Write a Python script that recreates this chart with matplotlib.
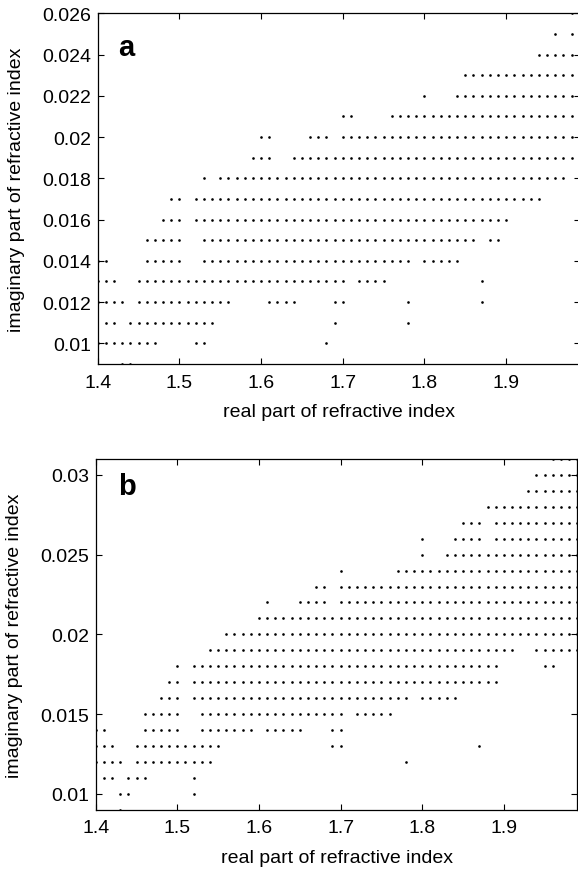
import numpy as np
import matplotlib
matplotlib.use("Agg")
import matplotlib.pyplot as plt

plt.rcParams['font.family'] = ['Liberation Sans', 'DejaVu Sans']

# grid of real parts (columns of the bitmap rows below)
REAL_GRID = [round(1.40 + 0.01 * k, 2) for k in range(60)]

# panel a: imaginary part rows and which grid cells hold a point ('o')
A_IMAG = [0.026, 0.025, 0.024, 0.023, 0.022, 0.021, 0.020, 0.019, 0.018,
          0.017, 0.016, 0.015, 0.014, 0.013, 0.012, 0.011, 0.010, 0.009]
A_ROWS = [
    ".......... .......... .......... .......... .......... ........o.",
    ".......... .......... .......... .......... .......... ......o.o.",
    ".......... .......... .......... .......... .......... ....ooooo.",
    ".......... .......... .......... .......... .....ooooo ooooooooo.",
    ".......... .......... .......... .......... o...oooooo ooooooooo.",
    ".......... .......... .......... oo....oooo oooooooooo ooooooooo.",
    ".......... .......... oo....ooo. oooooooooo oooooooooo ooooooooo.",
    ".......... .........o oo..oooooo oooooooooo oooooooooo ooooooooo.",
    ".......... ...o.ooooo oooooooooo oooooooooo oooooooooo oooooooo..",
    ".........o o.oooooooo oooooooooo oooooooooo oooooooooo ooooo.....",
    "........oo o.oooooooo oooooooooo oooooooooo oooooooooo o.........",
    "......oooo o..ooooooo oooooooooo oooooooooo ooooooo.oo ..........",
    "oo....oooo o..ooooooo oooooooooo ooooooooo. ooooo..... ..........",
    "ooo..ooooo oooooooooo oooooooooo o.oooo.... .......o.. ..........",
    "oooo.ooooo ooooooo... .oooo....o o.......o. .......o.. ..........",
    ".oo.oooooo ooooo..... .........o ........o. .......... ..........",
    "oooooooo.. ..oo...... ........o. .......... .......... ..........",
    "...oo..... .......... .......... .......... .......... ..........",
]

# panel b
B_IMAG = [0.031, 0.030, 0.029, 0.028, 0.027, 0.026, 0.025, 0.024, 0.023,
          0.022, 0.021, 0.020, 0.019, 0.018, 0.017, 0.016, 0.015, 0.014,
          0.013, 0.012, 0.011, 0.010, 0.009]
B_ROWS = [
    ".......... .......... .......... .......... .......... ......oooo",
    ".......... .......... .......... .......... .......... ....oooooo",
    ".......... .......... .......... .......... .......... ...ooooooo",
    ".......... .......... .......... .......... ........oo oooooooooo",
    ".......... .......... .......... .......... .....ooo.o oooooooooo",
    ".......... .......... .......... .......... o...oooo.o oooooooooo",
    ".......... .......... .......... .......... o..ooooooo oooooooooo",
    ".......... .......... .......... o......ooo oooooooooo oooooooooo",
    ".......... .......... .......oo. oooooooooo oooooooooo oooooooooo",
    ".......... .......... .o...oooo. oooooooooo oooooooooo oooooooooo",
    ".......... .......... oooooooooo oooooooooo oooooooooo oooooooooo",
    ".......... ......oooo oooooooooo oooooooooo oooooooooo oooooooooo",
    ".......... ....oooooo oooooooooo oooooooooo oooooooooo oo..oooooo",
    ".......... o.oooooooo oooooooooo oooooooooo oooooooooo .....oo...",
    ".........o o.oooooooo oooooooooo oooooooooo oooooooooo ..........",
    "........oo o.oooooooo oooooooooo ooooooooo. ooooo..... ..........",
    "......oooo o..ooooooo oooooooooo o.ooooo... .......... ..........",
    "oo....oooo o..ooooooo .ooooo...o o......... .......... ..........",
    "ooo..ooooo oooooo.... .........o o......... .......o.. ..........",
    "oooo.ooooo ooooo..... .......... ........o. .......... ..........",
    ".oo.ooo... ..o....... .......... .......... .......... ..........",
    "...oo..... ..o....... .......... .......... .......... ..........",
    "...o...... .......... .......... .......... .......... ..........",
]

X_TICKS = [1.4, 1.5, 1.6, 1.7, 1.8, 1.9]
X_TICKLABELS = ["1.4", "1.5", "1.6", "1.7", "1.8", "1.9"]
A_YTICKS = [0.010, 0.012, 0.014, 0.016, 0.018, 0.020, 0.022, 0.024, 0.026]
A_YTICKLABELS = ["0.01", "0.012", "0.014", "0.016", "0.018", "0.02",
                 "0.022", "0.024", "0.026"]
B_YTICKS = [0.010, 0.015, 0.020, 0.025, 0.030]
B_YTICKLABELS = ["0.01", "0.015", "0.02", "0.025", "0.03"]


def points(imag, rows):
    xs, ys = [], []
    for yv, row in zip(imag, rows):
        cells = row.replace(" ", "")
        for k, ch in enumerate(cells):
            if ch == "o":
                xs.append(REAL_GRID[k])
                ys.append(yv)
    return xs, ys


W, H = 578, 870
fig = plt.figure(figsize=(W / 100, H / 100), dpi=100)

FS = 14


def style(ax, ylim, yticks, yticklabels):
    ax.set_xlim(1.4, 1.99)
    ax.set_ylim(*ylim)
    ax.set_xticks(X_TICKS)
    ax.set_xticklabels(X_TICKLABELS)
    ax.set_yticks(yticks)
    ax.set_yticklabels(yticklabels)
    ax.tick_params(direction="in", length=4, width=0.8, top=True, right=True,
                   labelsize=FS)
    ax.tick_params(axis="x", pad=7)
    ax.tick_params(axis="y", pad=5)
    for s in ax.spines.values():
        s.set_linewidth(0.9)
    ax.set_xlabel("real part of refractive index", fontsize=FS, labelpad=9)
    ax.set_ylabel("imaginary part of refractive index", fontsize=FS, labelpad=12)


# panel a
axa = fig.add_axes([97.7 / W, 1 - 365 / H, 482 / W, 350.7 / H])
xa, ya = points(A_IMAG, A_ROWS)
axa.plot(xa, ya, linestyle="none", marker="o", ms=1.9, mew=0, color="black")
style(axa, (0.009, 0.026), A_YTICKS, A_YTICKLABELS)
axa.text(0.0415, 0.882, "a", transform=axa.transAxes, fontsize=21,
         fontweight="bold", va="baseline", ha="left")

# panel b
axb = fig.add_axes([95.7 / W, 1 - 810.7 / H, 481.6 / W, 350.7 / H])
xb, yb = points(B_IMAG, B_ROWS)
axb.plot(xb, yb, linestyle="none", marker="o", ms=1.9, mew=0, color="black")
style(axb, (0.009, 0.031), B_YTICKS, B_YTICKLABELS)
axb.text(0.0455, 0.900, "b", transform=axb.transAxes, fontsize=21,
         fontweight="bold", va="baseline", ha="left")

fig.savefig("out.png", dpi=100)
